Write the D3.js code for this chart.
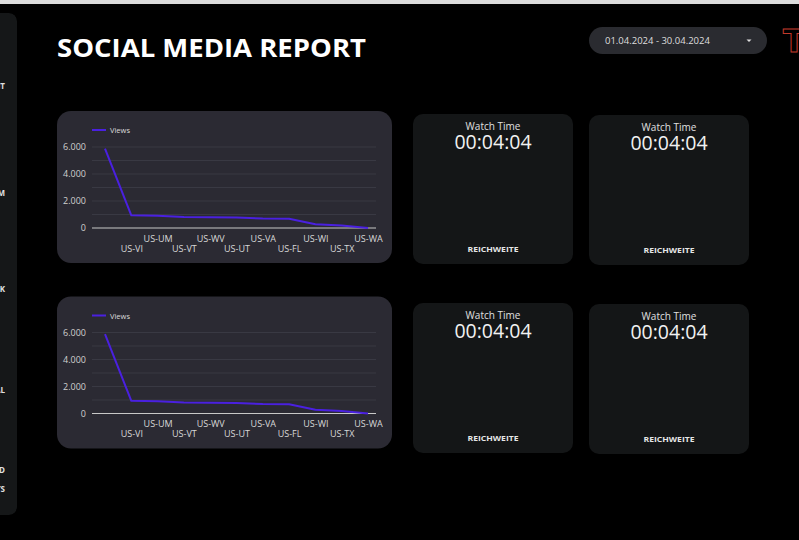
<!DOCTYPE html>
<html><head><meta charset="utf-8">
<script src="https://cdn.jsdelivr.net/npm/d3@7"></script>
<style>
html,body{margin:0;padding:0;background:#000;}
svg{display:block;}
</style></head>
<body>
<svg id="c" width="799" height="540"></svg>
<script>
// ---- data ----
const categories = ["", "US-VI", "US-UM", "US-VT", "US-WV", "US-UT", "US-VA", "US-FL", "US-WI", "US-TX", "US-WA"];
const views = [5880, 940, 900, 820, 790, 770, 700, 680, 280, 180, 0];
const yTicks = [0, 2000, 4000, 6000];
const gridTicks = [0, 1000, 2000, 3000, 4000, 5000, 6000];
const seriesName = "Views";
const reportTitle = "SOCIAL MEDIA REPORT";
const dateRange = "01.04.2024 - 30.04.2024";
const kpiLabel = "Watch Time";
const kpiValue = "00:04:04";
const kpiFooter = "REICHWEITE";
const sidebarItems = ["ÜBERSICHT", "INSTAGRAM", "TIKTOK", "GESAMTAL", "FACEBOOKD", "INSIGHTS"];

const locale = d3.formatLocale({decimal: ",", thousands: ".", grouping: [3], currency: ["", "€"]});
const fmt = locale.format(",.0f");

const svg = d3.select("#c");
svg.append("rect").attr("width", 799).attr("height", 540).attr("fill", "#000");
svg.append("rect").attr("x", 0).attr("y", 0).attr("width", 799).attr("height", 4).attr("fill", "#dcdcdc");

// sidebar
const defs = svg.append("defs");
defs.append("clipPath").attr("id", "sbclip").append("rect").attr("x", -20).attr("y", 13).attr("width", 37).attr("height", 502).attr("rx", 8);
const sb = svg.append("g").attr("clip-path", "url(#sbclip)");
sb.append("rect").attr("x", -20).attr("y", 13).attr("width", 37).attr("height", 502).attr("rx", 8).attr("fill", "#151718");
const sbY = [89, 196, 292, 393, 473, 492];
sb.selectAll("text.sb").data(sidebarItems).join("text")
  .attr("x", 5).attr("y", (d, i) => sbY[i]).attr("text-anchor", "end")
  .attr("font-family", "Open Sans, sans-serif").attr("font-weight", 700).attr("font-size", 8)
  .attr("fill", "#e0e0e0").text(d => d);

// title
svg.append("text").attr("x", 57).attr("y", 57).attr("font-family", "Open Sans, sans-serif")
  .attr("font-weight", 700).attr("font-size", 25).attr("fill", "#fff")
  .attr("textLength", 309).attr("lengthAdjust", "spacingAndGlyphs").text(reportTitle);

// date pill
svg.append("rect").attr("x", 589).attr("y", 27).attr("width", 178).attr("height", 27).attr("rx", 13.5).attr("fill", "#2a2b30");
svg.append("text").attr("x", 605).attr("y", 44).attr("font-family", "Open Sans, sans-serif")
  .attr("font-size", 9.5).attr("fill", "#dedede").text(dateRange);
svg.append("path").attr("d", "M746.5,39.5 L751.5,39.5 L749,42 Z").attr("fill", "#ddd");

// logo
svg.append("text").attr("x", 783).attr("y", 52).attr("font-family", "DejaVu Sans, sans-serif")
  .attr("font-weight", 700).attr("font-size", 32).attr("fill", "none")
  .attr("stroke", "#c0392b").attr("stroke-width", 1).text("T");

// charts
function drawChart(top) {
  const g = svg.append("g");
  g.append("rect").attr("x", 57).attr("y", top).attr("width", 335).attr("height", 152)
    .attr("rx", 14).attr("fill", "#2b2a33");
  const y = d3.scaleLinear().domain([0, 6000]).range([top + 117, top + 36]);
  const x = d3.scalePoint().domain(categories).range([105, 368]);

  // grid
  g.selectAll("line.grid").data(gridTicks.filter(t => t > 0)).join("line")
    .attr("x1", 92).attr("x2", 376).attr("y1", d => y(d)).attr("y2", d => y(d))
    .attr("stroke", "#3e3d47").attr("stroke-width", 0.8);
  g.append("line").attr("x1", 92).attr("x2", 376).attr("y1", y(0)).attr("y2", y(0))
    .attr("stroke", "#c8c8c8").attr("stroke-width", 1);

  // y axis
  const ya = g.append("g").attr("transform", "translate(86,0)")
    .call(d3.axisLeft(y).tickValues(yTicks).tickSize(0).tickPadding(0).tickFormat(fmt));
  ya.select(".domain").remove();
  ya.selectAll("text").attr("font-family", "Open Sans, sans-serif").attr("font-size", 9).attr("fill", "#d0d0d0");

  // x axis
  const xa = g.append("g").attr("transform", `translate(0,${y(0)})`)
    .call(d3.axisBottom(x).tickSize(0).tickPadding(0));
  xa.select(".domain").remove();
  xa.selectAll("text").attr("font-family", "Open Sans, sans-serif").attr("font-size", 9).attr("fill", "#d8d8d8")
    .attr("dy", null).attr("y", (d, i) => i % 2 === 0 ? 13.5 : 23.5);

  // line
  const line = d3.line().x((d, i) => x(categories[i])).y(d => y(d));
  g.append("path").datum(views).attr("d", line).attr("fill", "none")
    .attr("stroke", "#4a20e0").attr("stroke-width", 2).attr("stroke-linejoin", "round");

  // legend
  g.append("line").attr("x1", 92).attr("x2", 106).attr("y1", top + 19).attr("y2", top + 19)
    .attr("stroke", "#4a20e0").attr("stroke-width", 2);
  g.append("text").attr("x", 110).attr("y", top + 22).attr("font-family", "Open Sans, sans-serif")
    .attr("font-size", 7.5).attr("fill", "#dcdcdc").text(seriesName);
}
drawChart(111);
drawChart(296.5);

// KPI cards
const cards = [[413, 114], [589, 115], [413, 303], [589, 304]];
cards.forEach(([cx, cy]) => {
  const g = svg.append("g");
  g.append("rect").attr("x", cx).attr("y", cy).attr("width", 160).attr("height", 150).attr("rx", 10).attr("fill", "#141617");
  g.append("text").attr("x", cx + 80).attr("y", cy + 15.5).attr("text-anchor", "middle")
    .attr("font-family", "Open Sans, sans-serif").attr("font-size", 10).attr("fill", "#e0e0e0").text(kpiLabel);
  g.append("text").attr("x", cx + 80).attr("y", cy + 35).attr("text-anchor", "middle")
    .attr("font-family", "Open Sans, sans-serif").attr("font-size", 19.5).attr("fill", "#f2f2f2").text(kpiValue);
  g.append("text").attr("x", cx + 80).attr("y", cy + 138).attr("text-anchor", "middle")
    .attr("font-family", "Open Sans, sans-serif").attr("font-weight", 700).attr("font-size", 7.5)
    .attr("textLength", 51).attr("lengthAdjust", "spacingAndGlyphs")
    .attr("fill", "#e6e6e6").text(kpiFooter);
});
</script>
</body></html>
